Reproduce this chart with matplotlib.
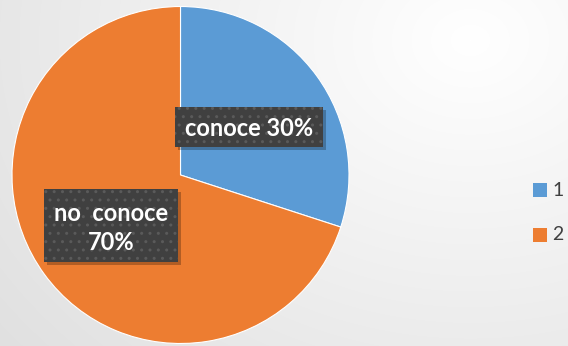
import matplotlib
matplotlib.use("Agg")
import matplotlib.pyplot as plt
import numpy as np
from matplotlib.patches import Rectangle

categories = ["1", "2"]
values = [30, 70]
labels = ["conoce 30%", "no  conoce\n70%"]
colors = ["#5B9BD5", "#ED7D31"]

W, H = 568, 346
fig = plt.figure(figsize=(W/100, H/100), dpi=100)
ax = fig.add_axes([0, 0, 1, 1])

# background gradient
yy, xx = np.mgrid[0:H, 0:W]
d = np.sqrt(((xx - 470) / 500.0) ** 2 + ((yy - 40) / 400.0) ** 2)
g = 1.0 - 0.10 * np.clip(d, 0, 1.2)
bg = np.dstack([g, g, g])
ax.imshow(bg, extent=[0, W, 0, H], origin="upper", zorder=0, aspect="auto")

wedges, _ = ax.pie(values, colors=colors, startangle=90, counterclock=False,
                   center=(180.5, H - 175), radius=168.5,
                   wedgeprops=dict(edgecolor="white", linewidth=0.8), frame=True)
for w in wedges:
    w.set_zorder(2)

plt.rcParams["hatch.color"] = "#5a5a5a"

def label_box(x0, y0, x1, y1, text, cx, cy):
    ax.add_patch(Rectangle((x0 + 3, H - y1 - 3), x1 - x0, y1 - y0,
                           facecolor="#000000", alpha=0.25, edgecolor="none", zorder=3))
    ax.add_patch(Rectangle((x0, H - y1), x1 - x0, y1 - y0,
                           facecolor="#404040", edgecolor="none", zorder=4))
    ax.add_patch(Rectangle((x0, H - y1), x1 - x0, y1 - y0,
                           facecolor="none", edgecolor="#5a5a5a", linewidth=0,
                           hatch="..", zorder=5))
    ax.text(cx, H - cy, text, color="white", fontsize=17, fontweight="bold",
            family="Lato", ha="center", va="center", zorder=6, linespacing=1.35)

label_box(175, 107, 323, 147, labels[0], 249, 128)
label_box(44, 189, 178, 262, labels[1], 111, 228)

# legend
for i, (c, lab) in enumerate(zip(colors, categories)):
    yc = 190 + i * 45
    ax.add_patch(Rectangle((533, H - yc - 7), 14, 14, facecolor=c, edgecolor="none", zorder=6))
    ax.text(552, H - yc, lab, fontsize=14, color="#404040", family="Lato",
            ha="left", va="center", zorder=6)

ax.set_xlim(0, W)
ax.set_ylim(0, H)
ax.set_aspect("auto")
ax.axis("off")
fig.savefig("out.png", dpi=100)
